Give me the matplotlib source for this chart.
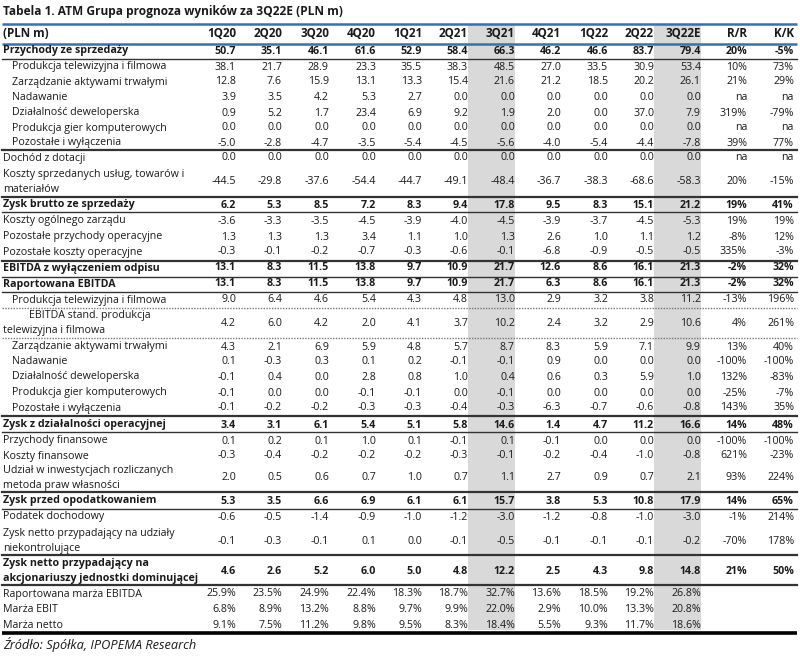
import matplotlib
matplotlib.use('Agg')
import matplotlib.pyplot as plt
from matplotlib.patches import Rectangle

# column headers
columns = ['1Q20', '2Q20', '3Q20', '4Q20', '1Q21', '2Q21', '3Q21', '4Q21',
           '1Q22', '2Q22', '3Q22E']
change_cols = ['R/R', 'K/K']
highlight = ['3Q21', '3Q22E']

# P&L rows (PLN m), one value per quarter
przychody      = [50.7, 35.1, 46.1, 61.6, 52.9, 58.4, 66.3, 46.2, 46.6, 83.7, 79.4]
prz_produkcja  = [38.1, 21.7, 28.9, 23.3, 35.5, 38.3, 48.5, 27.0, 33.5, 30.9, 53.4]
prz_aktywa     = [12.8, 7.6, 15.9, 13.1, 13.3, 15.4, 21.6, 21.2, 18.5, 20.2, 26.1]
prz_nadawanie  = [3.9, 3.5, 4.2, 5.3, 2.7, 0.0, 0.0, 0.0, 0.0, 0.0, 0.0]
prz_dewelop    = [0.9, 5.2, 1.7, 23.4, 6.9, 9.2, 1.9, 2.0, 0.0, 37.0, 7.9]
prz_gry        = [0.0, 0.0, 0.0, 0.0, 0.0, 0.0, 0.0, 0.0, 0.0, 0.0, 0.0]
prz_pozostale  = [-5.0, -2.8, -4.7, -3.5, -5.4, -4.5, -5.6, -4.0, -5.4, -4.4, -7.8]
dotacje        = [0.0, 0.0, 0.0, 0.0, 0.0, 0.0, 0.0, 0.0, 0.0, 0.0, 0.0]
koszty_sprzed  = [-44.5, -29.8, -37.6, -54.4, -44.7, -49.1, -48.4, -36.7, -38.3, -68.6, -58.3]
zysk_brutto    = [6.2, 5.3, 8.5, 7.2, 8.3, 9.4, 17.8, 9.5, 8.3, 15.1, 21.2]
koszty_zarzadu = [-3.6, -3.3, -3.5, -4.5, -3.9, -4.0, -4.5, -3.9, -3.7, -4.5, -5.3]
poz_przychody  = [1.3, 1.3, 1.3, 3.4, 1.1, 1.0, 1.3, 2.6, 1.0, 1.1, 1.2]
poz_koszty     = [-0.3, -0.1, -0.2, -0.7, -0.3, -0.6, -0.1, -6.8, -0.9, -0.5, -0.5]
ebitda_bez     = [13.1, 8.3, 11.5, 13.8, 9.7, 10.9, 21.7, 12.6, 8.6, 16.1, 21.3]
ebitda_rap     = [13.1, 8.3, 11.5, 13.8, 9.7, 10.9, 21.7, 6.3, 8.6, 16.1, 21.3]
eb_produkcja   = [9.0, 6.4, 4.6, 5.4, 4.3, 4.8, 13.0, 2.9, 3.2, 3.8, 11.2]
eb_stand       = [4.2, 6.0, 4.2, 2.0, 4.1, 3.7, 10.2, 2.4, 3.2, 2.9, 10.6]
eb_aktywa      = [4.3, 2.1, 6.9, 5.9, 4.8, 5.7, 8.7, 8.3, 5.9, 7.1, 9.9]
eb_nadawanie   = [0.1, -0.3, 0.3, 0.1, 0.2, -0.1, -0.1, 0.9, 0.0, 0.0, 0.0]
eb_dewelop     = [-0.1, 0.4, 0.0, 2.8, 0.8, 1.0, 0.4, 0.6, 0.3, 5.9, 1.0]
eb_gry         = [-0.1, 0.0, 0.0, -0.1, -0.1, 0.0, -0.1, 0.0, 0.0, 0.0, 0.0]
eb_pozostale   = [-0.1, -0.2, -0.2, -0.3, -0.3, -0.4, -0.3, -6.3, -0.7, -0.6, -0.8]
ebit           = [3.4, 3.1, 6.1, 5.4, 5.1, 5.8, 14.6, 1.4, 4.7, 11.2, 16.6]
przych_fin     = [0.1, 0.2, 0.1, 1.0, 0.1, -0.1, 0.1, -0.1, 0.0, 0.0, 0.0]
koszty_fin     = [-0.3, -0.4, -0.2, -0.2, -0.2, -0.3, -0.1, -0.2, -0.4, -1.0, -0.8]
udzial_inw     = [2.0, 0.5, 0.6, 0.7, 1.0, 0.7, 1.1, 2.7, 0.9, 0.7, 2.1]
zysk_przed     = [5.3, 3.5, 6.6, 6.9, 6.1, 6.1, 15.7, 3.8, 5.3, 10.8, 17.9]
podatek        = [-0.6, -0.5, -1.4, -0.9, -1.0, -1.2, -3.0, -1.2, -0.8, -1.0, -3.0]
mniejszosci    = [-0.1, -0.3, -0.1, 0.1, 0.0, -0.1, -0.5, -0.1, -0.1, -0.1, -0.2]
zysk_netto     = [4.6, 2.6, 5.2, 6.0, 5.0, 4.8, 12.2, 2.5, 4.3, 9.8, 14.8]

# y/y and q/q change in %, None = "na"
rr = [20, 10, 21, None, 319, None, 39, None, 20, 19, 19, -8, 335, -2, -2, -13, 4,
      13, -100, 132, -25, 143, 14, -100, 621, 93, 14, -1, -70, 21]
kk = [-5, 73, 29, None, -79, None, 77, None, -15, 41, 19, 12, -3, 32, 32, 196, 261,
      40, -100, -83, -7, 35, 48, -100, -23, 224, 65, 214, 178, 50]

# margins (%)
marza_ebitda = [25.9, 23.5, 24.9, 22.4, 18.3, 18.7, 32.7, 13.6, 18.5, 19.2, 26.8]
marza_ebit   = [6.8, 8.9, 13.2, 8.8, 9.7, 9.9, 22.0, 2.9, 10.0, 13.3, 20.8]
marza_netto  = [9.1, 7.5, 11.2, 9.8, 9.5, 8.3, 18.4, 5.5, 9.3, 11.7, 18.6]

# table: (label lines, values, style) ; style: b=bold, s=sub item, n=normal, e=special
rows = [
    (['Przychody ze sprzedaży'], przychody, 'b'),
    (['Produkcja telewizyjna i filmowa'], prz_produkcja, 's'),
    (['Zarządzanie aktywami trwałymi'], prz_aktywa, 's'),
    (['Nadawanie'], prz_nadawanie, 's'),
    (['Działalność deweloperska'], prz_dewelop, 's'),
    (['Produkcja gier komputerowych'], prz_gry, 's'),
    (['Pozostałe i wyłączenia'], prz_pozostale, 's'),
    (['Dochód z dotacji'], dotacje, 'n'),
    (['Koszty sprzedanych usług, towarów i', 'materiałów'], koszty_sprzed, 'n'),
    (['Zysk brutto ze sprzedaży'], zysk_brutto, 'b'),
    (['Koszty ogólnego zarządu'], koszty_zarzadu, 'n'),
    (['Pozostałe przychody operacyjne'], poz_przychody, 'n'),
    (['Pozostałe koszty operacyjne'], poz_koszty, 'n'),
    (['EBITDA z wyłączeniem odpisu'], ebitda_bez, 'b'),
    (['Raportowana EBITDA'], ebitda_rap, 'b'),
    (['Produkcja telewizyjna i filmowa'], eb_produkcja, 's'),
    (['EBITDA stand. produkcja', 'telewizyjna i filmowa'], eb_stand, 'e'),
    (['Zarządzanie aktywami trwałymi'], eb_aktywa, 's'),
    (['Nadawanie'], eb_nadawanie, 's'),
    (['Działalność deweloperska'], eb_dewelop, 's'),
    (['Produkcja gier komputerowych'], eb_gry, 's'),
    (['Pozostałe i wyłączenia'], eb_pozostale, 's'),
    (['Zysk z działalności operacyjnej'], ebit, 'b'),
    (['Przychody finansowe'], przych_fin, 'n'),
    (['Koszty finansowe'], koszty_fin, 'n'),
    (['Udział w inwestycjach rozliczanych', 'metoda praw własności'], udzial_inw, 'n'),
    (['Zysk przed opodatkowaniem'], zysk_przed, 'b'),
    (['Podatek dochodowy'], podatek, 'n'),
    (['Zysk netto przypadający na udziały', 'niekontrolujące'], mniejszosci, 'n'),
    (['Zysk netto przypadający na', 'akcjonariuszy jednostki dominującej'], zysk_netto, 'b'),
]
margins = [
    ('Raportowana marża EBITDA', marza_ebitda),
    ('Marża EBIT', marza_ebit),
    ('Marża netto', marza_netto),
]

# ---- layout (pixels) ----
row_y = [51, 67, 82, 98, 113, 128, 143, 158, 182, 205, 221, 237, 252, 268, 284,
         300, 323, 347, 362, 377, 393, 408, 425, 441, 456, 478, 501, 517, 541, 571]
margin_y = [594, 609, 625]
col_right = [236, 282, 329, 376, 422, 468, 515, 561, 608, 654, 701, 747, 794]
col_w = 46.6
FS = 7.65
FONT = 'Open Sans'
TXT = '#1a1a1a'
BLUE = '#3a6db3'
DARK = '#333333'

fig = plt.figure(figsize=(8.0, 6.59), dpi=100)
ax = fig.add_axes([0, 0, 1, 1])
ax.set_xlim(0, 800)
ax.set_ylim(659, 0)
ax.axis('off')

# grey highlight columns
for name in highlight:
    i = columns.index(name)
    ax.add_patch(Rectangle((col_right[i] - col_w, 24), col_w, 606,
                           facecolor='#d9d9d9', edgecolor='none', zorder=0))

ax.text(3, 12, 'Tabela 1. ATM Grupa prognoza wyników za 3Q22E (PLN m)',
        fontsize=8.6, fontweight='bold', family=FONT, color=TXT, va='center')

# header
ax.text(3, 33.5, '(PLN m)', fontsize=8.4, fontweight='bold', family=FONT,
        color=TXT, va='center')
for name, x in zip(columns + change_cols, col_right):
    ax.text(x, 33.5, name, fontsize=8.4, fontweight='bold', family=FONT,
            color=TXT, va='center', ha='right')


def fmt_pct(v):
    return 'na' if v is None else f'{v}%'


for (lines, vals, style), y, r1, r2 in zip(rows, row_y, rr, kk):
    weight = 'bold' if style == 'b' else 'normal'
    if len(lines) == 1:
        x0 = 12 if style == 's' else 3
        ax.text(x0, y, lines[0], fontsize=FS, fontweight=weight, family=FONT,
                color=TXT, va='center')
    else:
        x0 = 29 if style == 'e' else 3
        ax.text(x0, y - 7.5, lines[0], fontsize=FS, fontweight=weight,
                family=FONT, color=TXT, va='center')
        ax.text(3, y + 7.5, lines[1], fontsize=FS, fontweight=weight,
                family=FONT, color=TXT, va='center')
    cells = [f'{v:.1f}' for v in vals] + [fmt_pct(r1), fmt_pct(r2)]
    for s, x in zip(cells, col_right):
        ax.text(x, y, s, fontsize=FS, fontweight=weight, family=FONT,
                color=TXT, va='center', ha='right')

for (label, vals), y in zip(margins, margin_y):
    ax.text(3, y, label, fontsize=FS, family=FONT, color=TXT, va='center')
    for v, x in zip(vals, col_right):
        ax.text(x, y, f'{v:.1f}%', fontsize=FS, family=FONT, color=TXT,
                va='center', ha='right')

# rules
x0, x1 = 2, 797
for y in (23.5, 43.5):
    ax.plot([x0, x1], [y, y], color=BLUE, lw=1.8, solid_capstyle='butt')
for y in (59, 212, 277, 292, 432, 509):
    ax.plot([x0, x1], [y, y], color=DARK, lw=1.0)
for y in (150, 197, 261, 416, 492, 555, 585):
    ax.plot([x0, x1], [y, y], color=DARK, lw=1.6)
for y in (308, 338):
    ax.plot([x0, x1], [y, y], color='#777777', lw=1.0, ls=(0, (1, 1)))
ax.plot([x0, x1], [632.5, 632.5], color='black', lw=2.6, solid_capstyle='butt')

ax.text(3, 645, 'Źródło: Spółka, IPOPEMA Research', fontsize=9.2,
        style='italic', family=FONT, color=TXT, va='center')

fig.savefig('out.png', dpi=100)
